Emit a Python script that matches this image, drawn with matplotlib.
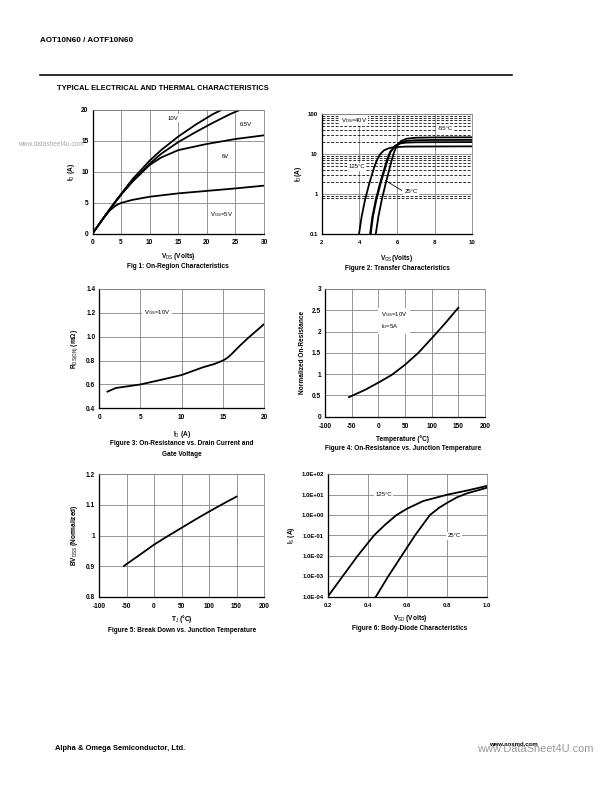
import numpy as np
import matplotlib.pyplot as plt
import matplotlib.lines as lines

plt.rcParams['font.family'] = ['Liberation Sans', 'DejaVu Sans']
plt.rcParams['mathtext.fontset'] = 'custom'
plt.rcParams['mathtext.rm'] = 'Liberation Sans'
plt.rcParams['mathtext.it'] = 'Liberation Sans'
plt.rcParams['mathtext.bf'] = 'Liberation Sans:bold'
plt.rcParams['axes.unicode_minus'] = False

# Fig 1: on-region characteristics
vds_5v = [0, 1, 2, 3, 4, 5, 7, 10, 15, 20, 25, 30]
id_5v = [0, 1.3, 2.6, 3.7, 4.5, 4.95, 5.45, 5.95, 6.5, 6.9, 7.3, 7.75]
vds_6v = [0, 1, 2, 3, 4, 5, 7, 10, 12, 15, 20, 25, 30]
id_6v = [0, 1.3, 2.6, 3.9, 5.1, 6.3, 8.4, 11.1, 12.3, 13.5, 14.5, 15.3, 15.9]
vds_65v = [0, 1, 2, 3, 4, 5, 7, 10, 12, 15, 18, 21, 24, 26]
id_65v = [0, 1.3, 2.6, 3.9, 5.1, 6.3, 8.5, 11.3, 12.9, 14.8, 16.4, 17.9, 19.3, 20.1]
vds_10v = [0, 1, 2, 3, 4, 5, 7, 10, 12, 15, 18, 21, 23]
id_10v = [0, 1.3, 2.6, 3.9, 5.2, 6.4, 8.8, 11.8, 13.5, 15.7, 17.6, 19.3, 20.2]

# Fig 2: transfer characteristics
vgs_125 = [3.98, 4.12, 4.30, 4.53, 4.78, 4.9, 5.1, 5.3, 5.55, 5.8, 6.5, 8, 10]
id_125 = [0.1, 0.275, 0.72, 1.88, 4.6, 6.6, 10.0, 12.5, 14.1, 15.0, 15.6, 15.7, 15.8]
vgs_25 = [4.57, 4.69, 4.87, 5.10, 5.36, 5.5, 5.63, 5.9, 6.2, 6.5, 7.0, 8, 10]
id_25 = [0.1, 0.275, 0.72, 1.88, 4.9, 8.0, 11.5, 16.2, 19.8, 21.6, 22.5, 22.8, 22.9]
vgs_x = [4.6, 4.72, 4.9, 5.13, 5.39, 5.53, 5.66, 5.92, 6.2, 6.5, 7.0, 8, 10]
id_x = [0.1, 0.275, 0.72, 1.88, 4.9, 8.0, 11.5, 16.3, 18.8, 19.6, 20.0, 20.1, 20.2]
vgs_m55 = [4.87, 5.01, 5.19, 5.40, 5.63, 5.75, 5.86, 6.0, 6.2, 6.5, 7.0, 8, 10]
id_m55 = [0.1, 0.275, 0.72, 1.88, 4.9, 8.0, 11.8, 16.5, 21.2, 24.5, 26.0, 26.4, 26.6]

# Fig 3: on-resistance vs drain current
id_r = [1, 2, 3, 4, 5, 7.4, 10, 12.6, 14, 15, 15.5, 16, 17, 18, 19, 20]
rds_on = [0.54, 0.57, 0.58, 0.59, 0.60, 0.637, 0.679, 0.744, 0.772, 0.80, 0.82,
          0.85, 0.92, 0.985, 1.045, 1.105]

# Fig 4: normalized on-resistance vs temperature
temp_r = [-55, -25, 0, 25, 50, 75, 100, 125, 150]
rn = [0.46, 0.63, 0.80, 0.98, 1.22, 1.50, 1.84, 2.19, 2.56]

# Fig 5: breakdown vs junction temperature
temp_bv = [-55, -25, 0, 25, 50, 75, 100, 125, 150]
bv = [0.90, 0.938, 0.97, 0.998, 1.025, 1.052, 1.078, 1.103, 1.127]

# Fig 6: body-diode characteristics
vsd_125 = [0.2, 0.275, 0.35, 0.432, 0.49, 0.545, 0.6, 0.68, 0.8, 0.9, 1.0]
is_125 = [1e-4, 1e-3, 1e-2, 1e-1, 0.35, 1.0, 2.1, 4.9, 10, 16, 27]
vsd_25 = [0.442, 0.504, 0.571, 0.638, 0.713, 0.76, 0.8, 0.85, 0.9, 0.95, 1.0]
is_25 = [1e-4, 1e-3, 1e-2, 1e-1, 1.0, 2.3, 4.0, 7.5, 11.7, 16, 22]

W, H = 612, 792
fig = plt.figure(figsize=(W / 72, H / 72), dpi=72)


def px(x, y):
    return x / W, 1 - y / H


def box(l, t, r, b):
    return fig.add_axes([l / W, 1 - b / H, (r - l) / W, (b - t) / H])


def style(ax, fs=6.5):
    ax.grid(True, color='#808080', lw=0.8)
    ax.set_axisbelow(True)
    for s in ['top', 'right']:
        ax.spines[s].set_color('#808080')
        ax.spines[s].set_linewidth(0.8)
    for s in ['left', 'bottom']:
        ax.spines[s].set_color('black')
        ax.spines[s].set_linewidth(1.3)
    ax.tick_params(length=0, labelsize=fs)
    ax.tick_params(axis='x', pad=6)
    ax.tick_params(axis='y', pad=4)
    for t in ax.get_xticklabels() + ax.get_yticklabels():
        t.set_fontweight('bold')


def ftext(x, y, s, **kw):
    kw.setdefault('fontsize', 6.5)
    kw.setdefault('ha', 'center')
    kw.setdefault('va', 'center')
    fig.text(*px(x, y), s, **kw)


white = dict(facecolor='white', edgecolor='none', pad=1.5)
lw = 1.8

# header
ftext(40, 41, 'AOT10N60 / AOTF10N60', fontsize=8, fontweight='bold', ha='left')
fig.lines.append(lines.Line2D([40 / W, 512 / W], [1 - 75 / H] * 2, transform=fig.transFigure,
                              color='black', lw=1.6))
ftext(57, 88, 'TYPICAL ELECTRICAL AND THERMAL CHARACTERISTICS', fontsize=7.5,
      fontweight='bold', ha='left')

# Fig 1
ax1 = box(92.5, 110, 264, 233.5)
ax1.plot(vds_5v, id_5v, color='black', lw=lw)
ax1.plot(vds_6v, id_6v, color='black', lw=lw)
ax1.plot(vds_65v, id_65v, color='black', lw=lw)
ax1.plot(vds_10v, id_10v, color='black', lw=lw)
ax1.set_xlim(0, 30)
ax1.set_ylim(0, 20)
ax1.set_xticks(np.arange(0, 31, 5))
ax1.set_yticks(np.arange(0, 21, 5))
style(ax1)
ax1.text(14, 18.7, '10V', fontsize=6, ha='center', va='center', bbox=white)
ax1.text(26.8, 17.7, '6.5V', fontsize=6, ha='center', va='center', bbox=white)
ax1.text(23.2, 12.4, '6V', fontsize=6, ha='center', va='center', bbox=white)
ax1.text(22.6, 3.0, 'V$_{GS}$=5V', fontsize=6, ha='center', va='center', bbox=white)
ax1.set_ylabel('I$_D$ (A)', fontsize=6.5, fontweight='bold', labelpad=4)
ftext(178, 256, 'V$_{DS}$ (Volts)', fontweight='bold')
ftext(178, 266, 'Fig 1: On-Region Characteristics', fontweight='bold')
ftext(18, 145, 'www.datasheet4u.com', fontsize=6.5, color='#a8a8a8', ha='left', zorder=0)

# Fig 2
ax2 = box(321.7, 114.3, 472.3, 234.3)
ax2.set_yscale('log')
minor = [0.8, 0.9] + list(range(2, 10)) + list(range(20, 100, 10))
for m in minor:
    ax2.axhline(m, color='black', lw=0.8, ls=(0, (3.5, 2)), zorder=1)
ax2.plot(vgs_125, id_125, color='black', lw=lw, zorder=3)
ax2.plot(vgs_25, id_25, color='black', lw=lw, zorder=3)
ax2.plot(vgs_x, id_x, color='black', lw=lw, zorder=3)
ax2.plot(vgs_m55, id_m55, color='black', lw=lw, zorder=3)
ax2.set_xlim(2, 10)
ax2.set_ylim(0.1, 100)
ax2.set_xticks([2, 4, 6, 8, 10])
ax2.set_yticks([0.1, 1, 10, 100])
ax2.set_yticklabels(['0.1', '1', '10', '100'])
ax2.minorticks_off()
style(ax2, fs=6)
ax2.grid(True, which='major', color='#808080', lw=0.8)
ax2.text(3.7, 70, 'V$_{DS}$=40V', fontsize=6, ha='center', va='center', bbox=white, zorder=4)
ax2.text(8.55, 45, '-55°C', fontsize=6, ha='center', va='center', bbox=white, zorder=4)
ax2.text(3.85, 4.9, '125°C', fontsize=6, ha='center', va='center', bbox=white, zorder=4)
ax2.text(6.75, 1.15, '25°C', fontsize=6, ha='center', va='center', bbox=white, zorder=4)
ax2.plot([6.25, 5.4], [1.25, 2.2], color='black', lw=0.8, zorder=4)
ax2.set_ylabel('I$_D$(A)', fontsize=6.5, fontweight='bold', labelpad=4)
ftext(397, 259, 'V$_{GS}$(Volts)', fontweight='bold')
ftext(397, 269, 'Figure 2: Transfer Characteristics', fontweight='bold')

# Fig 3
ax3 = box(99.3, 289, 264, 408.3)
ax3.plot(id_r, rds_on, color='black', lw=lw)
ax3.set_xlim(0, 20)
ax3.set_ylim(0.4, 1.4)
ax3.set_xticks([0, 5, 10, 15, 20])
ax3.set_yticks(np.arange(0.4, 1.41, 0.2))
ax3.set_yticklabels(['0.4', '0.6', '0.8', '1.0', '1.2', '1.4'])
style(ax3)
ax3.text(7, 1.2, 'V$_{GS}$=10V', fontsize=6, ha='center', va='center', bbox=white)
ax3.set_ylabel('R$_{DS(ON)}$ (mΩ)', fontsize=6.5, fontweight='bold', labelpad=6)
ftext(182, 434, 'I$_D$ (A)', fontweight='bold')
ftext(182, 444, 'Figure 3: On-Resistance vs. Drain Current and', fontweight='bold')
ftext(182, 454, 'Gate Voltage', fontweight='bold')

# Fig 4
ax4 = box(325, 289, 485, 416.7)
ax4.plot(temp_r, rn, color='black', lw=lw)
ax4.set_xlim(-100, 200)
ax4.set_ylim(0, 3)
ax4.set_xticks(np.arange(-100, 201, 50))
ax4.set_yticks([0, 0.5, 1, 1.5, 2, 2.5, 3])
ax4.set_yticklabels(['0', '0.5', '1', '1.5', '2', '2.5', '3'])
style(ax4)
ax4.text(5, 2.25, 'V$_{GS}$=10V\nI$_D$=5A', fontsize=6, ha='left', va='center',
         linespacing=1.5, bbox=dict(facecolor='white', edgecolor='none', pad=3))
ax4.set_ylabel('Normalized On-Resistance', fontsize=6.5, fontweight='bold', labelpad=6)
ftext(403, 439, 'Temperature (°C)', fontweight='bold')
ftext(403, 448, 'Figure 4: On-Resistance vs. Junction Temperature', fontweight='bold')

# Fig 5
ax5 = box(99, 474.3, 264, 596.7)
ax5.plot(temp_bv, bv, color='black', lw=lw)
ax5.set_xlim(-100, 200)
ax5.set_ylim(0.8, 1.2)
ax5.set_xticks(np.arange(-100, 201, 50))
ax5.set_yticks([0.8, 0.9, 1.0, 1.1, 1.2])
ax5.set_yticklabels(['0.8', '0.9', '1', '1.1', '1.2'])
style(ax5)
ax5.set_ylabel('BV$_{DSS}$ (Normalized)', fontsize=6.5, fontweight='bold', labelpad=6)
ftext(182, 619, 'T$_J$ (°C)', fontweight='bold')
ftext(182, 631, 'Figure 5: Break Down vs. Junction Temperature', fontweight='bold')

# Fig 6
ax6 = box(327.7, 474.3, 487, 596.7)
ax6.set_yscale('log')
ax6.plot(vsd_125, is_125, color='black', lw=lw)
ax6.plot(vsd_25, is_25, color='black', lw=lw)
ax6.set_xlim(0.2, 1.0)
ax6.set_ylim(1e-4, 1e2)
ax6.set_xticks([0.2, 0.4, 0.6, 0.8, 1.0])
ax6.set_xticklabels(['0.2', '0.4', '0.6', '0.8', '1.0'])
ax6.set_yticks([1e-4, 1e-3, 1e-2, 1e-1, 1e0, 1e1, 1e2])
ax6.set_yticklabels(['1.0E-04', '1.0E-03', '1.0E-02', '1.0E-01', '1.0E+00', '1.0E+01', '1.0E+02'])
ax6.minorticks_off()
style(ax6, fs=6)
ax6.text(0.48, 10, '125°C', fontsize=6, ha='center', va='center', bbox=white)
ax6.text(0.835, 0.1, '25°C', fontsize=6, ha='center', va='center', bbox=white)
ax6.set_ylabel('I$_S$ (A)', fontsize=6.5, fontweight='bold', labelpad=4)
ftext(410, 618, 'V$_{SD}$ (Volts)', fontweight='bold')
ftext(410, 629, 'Figure 6: Body-Diode Characteristics', fontweight='bold')

# footer
ftext(55, 748, 'Alpha & Omega Semiconductor, Ltd.', fontsize=7.5, fontweight='bold', ha='left')
ftext(513, 745, 'www.aosmd.com', fontsize=6, fontweight='bold', ha='center')
ftext(535, 749, 'www.DataSheet4U.com', fontsize=11, color='#9a9a9a', ha='center')

fig.savefig('out.png', dpi=72)
